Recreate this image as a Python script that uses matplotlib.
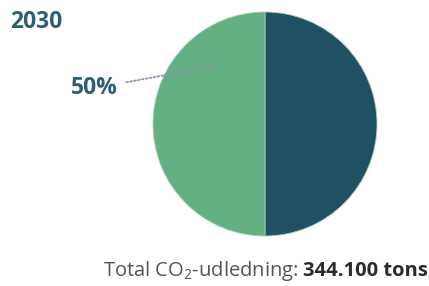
import matplotlib
matplotlib.use("Agg")
import matplotlib.pyplot as plt

plt.rcParams['font.family'] = ['Open Sans', 'DejaVu Sans']
plt.rcParams['mathtext.fontset'] = 'custom'
plt.rcParams['mathtext.rm'] = 'Open Sans'

W, H = 429, 286
year = '2030'
labels = ['Andel A', 'Andel B']
shares = [50, 50]
colors = ['#1F5064', '#63B083']
total_label = 'Total CO$_2$-udledning:'
total_value = '344.100 tons'

fig = plt.figure(figsize=(W / 100, H / 100), dpi=100)

# pie axes placed in pixel terms: centre (265,124), radius 112
cx, cy, r = 265, 124, 112
ax = fig.add_axes([(cx - r) / W, (H - cy - r) / H, 2 * r / W, 2 * r / H])
ax.pie(shares, colors=colors, startangle=90, counterclock=False, radius=1,
       wedgeprops=dict(linewidth=0.6, edgecolor='#a8d0b5'))
ax.set_xlim(-1, 1)
ax.set_ylim(-1, 1)
ax.set_aspect('equal')

fig.text(10 / W, 1 - 22 / H, year, fontsize=16.5, fontweight='bold',
         color='#2E5E73', va='center', ha='left')

# percentage label with dotted leader
ax.annotate(f'{shares[1]}%', xy=(-0.43, 0.52), xycoords='data',
            xytext=(118 / W, 1 - 88 / H), textcoords='figure fraction',
            fontsize=16.5, fontweight='bold', color='#2E5E73', ha='right', va='center',
            arrowprops=dict(arrowstyle='-', linestyle=(0, (1, 1.2)), color='#8e97aa',
                            lw=1.3, shrinkA=4, shrinkB=0))

# bottom total line: bold value right-aligned, regular text before it
fig.canvas.draw()
rend = fig.canvas.get_renderer()
t2 = fig.text(428 / W, 1 - 271 / H, total_value, fontsize=14.5, fontweight='bold',
              color='#2b2b2b', ha='right', va='center')
bb = t2.get_window_extent(rend)
fig.text((bb.x0 - 5) / W, 1 - 271 / H, total_label, fontsize=14.5, color='#555555',
         ha='right', va='center')

fig.savefig('out.png', dpi=100)
